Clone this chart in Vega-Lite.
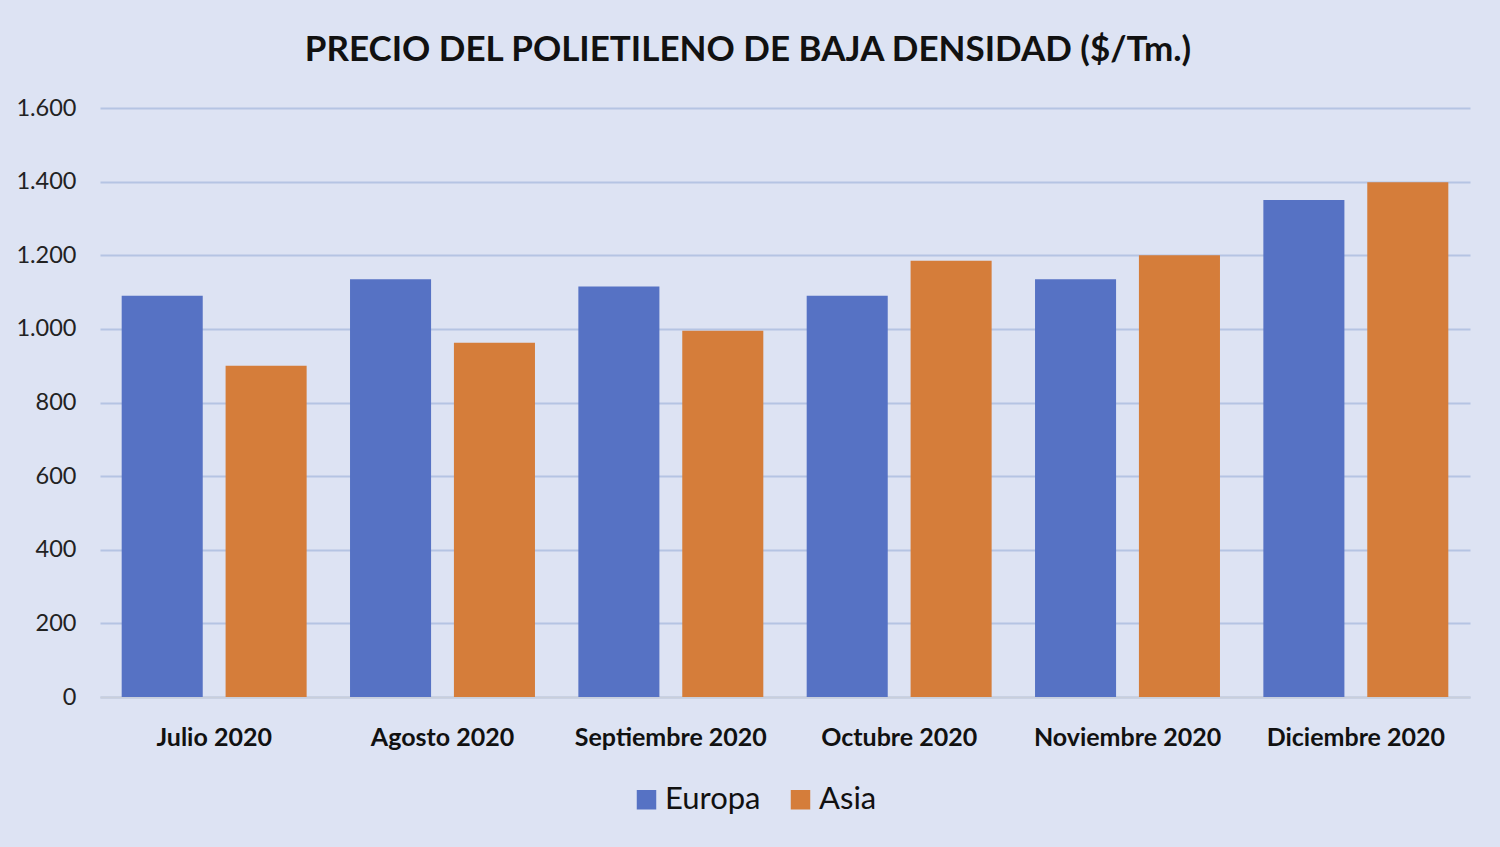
{
  "$schema": "https://vega.github.io/schema/vega-lite/v6.json",
  "description": "Precio del polietileno de baja densidad, Europa vs Asia, julio-diciembre 2020.",
  "autosize": "none",
  "width": 1370,
  "height": 589,
  "padding": {"left": 100, "top": 108, "right": 30, "bottom": 150},
  "background": "#dde3f3",
  "title": {
    "text": "PRECIO DEL POLIETILENO DE BAJA DENSIDAD ($/Tm.)",
    "font": "Lato",
    "fontSize": 35,
    "fontWeight": "bold",
    "color": "#111111",
    "anchor": "middle",
    "dx": -37,
    "offset": 28
  },
  "data": {
    "values": [
      {"mes": "Julio 2020", "region": "Europa", "precio": 1090},
      {"mes": "Julio 2020", "region": "Asia", "precio": 900},
      {"mes": "Agosto 2020", "region": "Europa", "precio": 1135},
      {"mes": "Agosto 2020", "region": "Asia", "precio": 962},
      {"mes": "Septiembre 2020", "region": "Europa", "precio": 1115},
      {"mes": "Septiembre 2020", "region": "Asia", "precio": 995},
      {"mes": "Octubre 2020", "region": "Europa", "precio": 1090},
      {"mes": "Octubre 2020", "region": "Asia", "precio": 1185},
      {"mes": "Noviembre 2020", "region": "Europa", "precio": 1135},
      {"mes": "Noviembre 2020", "region": "Asia", "precio": 1200},
      {"mes": "Diciembre 2020", "region": "Europa", "precio": 1350},
      {"mes": "Diciembre 2020", "region": "Asia", "precio": 1398}
    ]
  },
  "mark": {"type": "bar"},
  "encoding": {
    "x": {
      "field": "mes",
      "type": "nominal",
      "sort": null,
      "title": null,
      "scale": {"paddingInner": 0.19, "paddingOuter": 0.095},
      "axis": {
        "labelAngle": 0,
        "labelLimit": 0,
        "labelFont": "Lato",
        "labelFontSize": 25,
        "labelFontWeight": "bold",
        "labelColor": "#111111",
        "labelPadding": 28,
        "ticks": false,
        "domainColor": "#c9cfdb",
        "domainWidth": 2
      }
    },
    "xOffset": {
      "field": "region",
      "sort": ["Europa", "Asia"],
      "scale": {"paddingInner": 0.22, "paddingOuter": 0}
    },
    "y": {
      "field": "precio",
      "type": "quantitative",
      "title": null,
      "scale": {"domain": [0, 1600]},
      "axis": {
        "values": [0, 200, 400, 600, 800, 1000, 1200, 1400, 1600],
        "format": ",d",
        "labelFont": "Lato",
        "labelFontSize": 23.5,
        "labelColor": "#222222",
        "labelPadding": 24,
        "ticks": false,
        "domain": false,
        "gridColor": "#b5c4e3",
        "gridWidth": 2
      }
    },
    "color": {
      "field": "region",
      "type": "nominal",
      "sort": ["Europa", "Asia"],
      "title": null,
      "scale": {"domain": ["Europa", "Asia"], "range": ["#5672c4", "#d57d3a"]},
      "legend": {
        "orient": "none",
        "legendX": 531,
        "legendY": 676,
        "padding": 0,
        "direction": "horizontal",
        "symbolType": "square",
        "symbolSize": 380,
        "symbolStrokeWidth": 0,
        "labelFont": "Lato",
        "labelFontSize": 31,
        "labelColor": "#111111",
        "labelOffset": 3,
        "columnPadding": 24
      }
    }
  },
  "config": {
    "view": {"stroke": null},
    "locale": {
      "number": {"decimal": ",", "thousands": ".", "grouping": [3], "currency": ["", " €"]}
    }
  }
}
